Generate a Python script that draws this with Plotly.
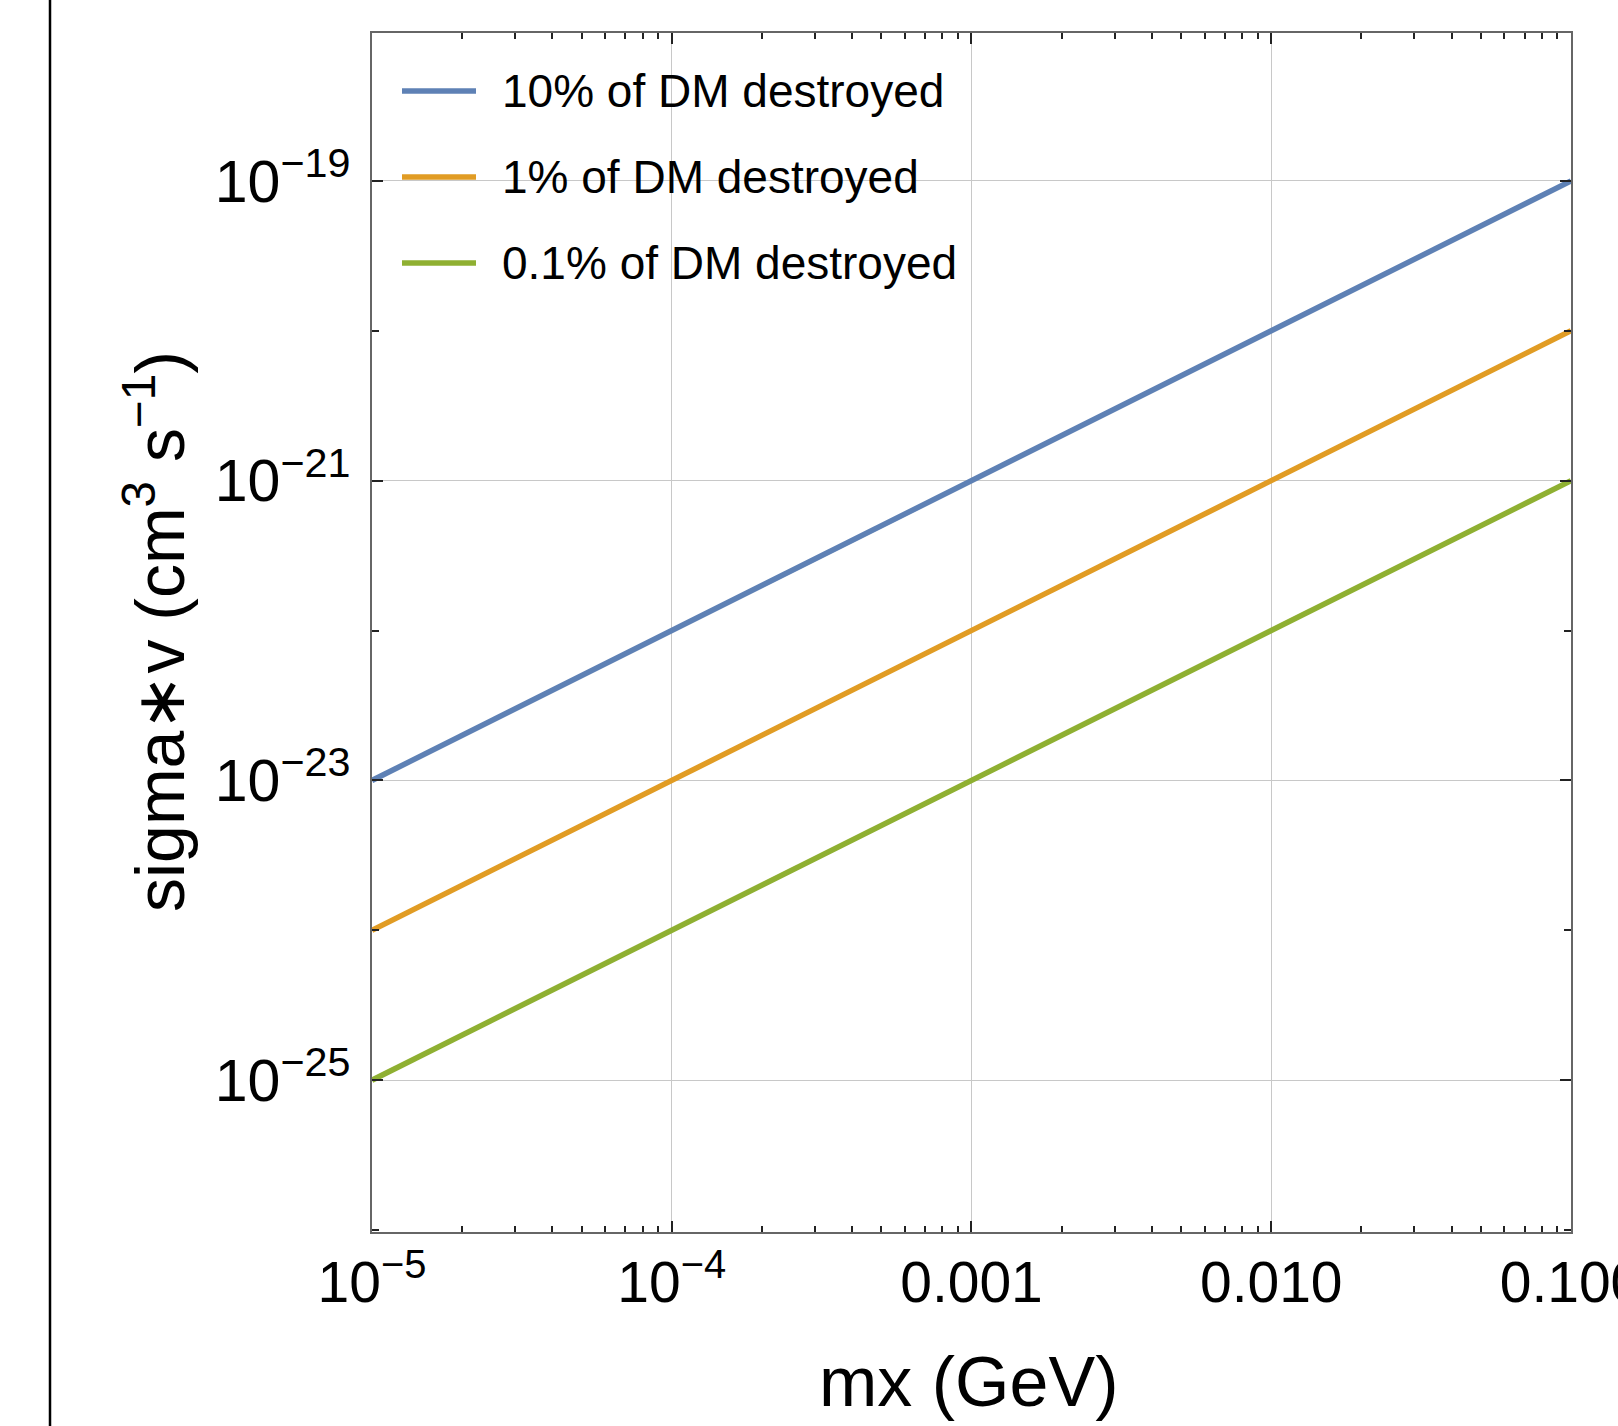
import plotly.graph_objects as go

# ---- data ----
mx_gev = [1e-5, 1e-4, 1e-3, 1e-2, 1e-1]
sv_10pct = [1e-23, 1e-22, 1e-21, 1e-20, 1e-19]
sv_1pct = [1e-24, 1e-23, 1e-22, 1e-21, 1e-20]
sv_01pct = [1e-25, 1e-24, 1e-23, 1e-22, 1e-21]
series_names = ["10% of DM destroyed", "1% of DM destroyed", "0.1% of DM destroyed"]
series_colors = ["#5E81B5", "#E19C24", "#8FB032"]

x_tickvals = [1e-5, 1e-4, 1e-3, 1e-2, 1e-1]
x_ticktext = ["10<sup>−5</sup>", "10<sup>−4</sup>", "0.001", "0.010", "0.100"]
y_tickvals = [1e-25, 1e-23, 1e-21, 1e-19]
y_ticktext = ["10<sup>−25</sup>", "10<sup>−23</sup>", "10<sup>−21</sup>", "10<sup>−19</sup>"]
y_minorvals = [1e-26, 1e-24, 1e-22, 1e-20, 1e-18]

# ---- layout geometry (pixels) ----
W, H = 1618, 1426
PL, PR, PT, PB = 372, 1571, 33, 1232
pw, ph = PR - PL, PB - PT


def px(xp):
    return (xp - PL) / pw


def py(yp):
    return (PB - yp) / ph


FONT = "Liberation Sans, Arial, Helvetica, sans-serif"

fig = go.Figure()
for ys, name, col in zip([sv_10pct, sv_1pct, sv_01pct], series_names, series_colors):
    fig.add_trace(go.Scatter(x=mx_gev, y=ys, mode="lines", name=name,
                             line=dict(color=col, width=5.5), showlegend=False))

x_minor = [m * 10 ** e for e in range(-5, -1) for m in range(2, 10)]

fig.update_xaxes(type="log", range=[-5, -0.99995], automargin=False,
                 tickmode="array", tickvals=x_tickvals, ticktext=x_ticktext,
                 ticklabeloverflow="allow",
                 ticks="inside", ticklen=11, tickwidth=1.5, tickcolor="#222",
                 showline=True, linecolor="#666", linewidth=1.5, mirror="allticks",
                 showgrid=True, gridcolor="#c8c8c8", gridwidth=1,
                 tickfont=dict(family=FONT, size=57, color="black"),
                 minor=dict(tickmode="array", tickvals=x_minor, ticks="inside",
                            ticklen=6, tickwidth=1.5, tickcolor="#222", showgrid=False),
                 zeroline=False)
fig.update_yaxes(type="log", range=[-26.013, -18.013], automargin=False,
                 tickmode="array", tickvals=y_tickvals, ticktext=y_ticktext,
                 ticklabelstandoff=8,
                 ticks="inside", ticklen=11, tickwidth=1.5, tickcolor="#222",
                 showline=True, linecolor="#666", linewidth=1.5, mirror="allticks",
                 showgrid=True, gridcolor="#c8c8c8", gridwidth=1,
                 tickfont=dict(family=FONT, size=59, color="black"),
                 minor=dict(tickmode="array", tickvals=y_minorvals, ticks="inside",
                            ticklen=7, tickwidth=1.5, tickcolor="#222", showgrid=False),
                 zeroline=False)

shapes = []
annotations = []
# legend drawn manually
leg_y = [91, 177, 263]
for name, col, yy in zip(series_names, series_colors, leg_y):
    shapes.append(dict(type="line", xref="paper", yref="paper",
                       x0=px(402), x1=px(476), y0=py(yy), y1=py(yy),
                       line=dict(color=col, width=5.5)))
    annotations.append(dict(xref="paper", yref="paper", x=px(500), y=py(yy),
                            xanchor="left", yanchor="middle", showarrow=False,
                            text=name, font=dict(family=FONT, size=46, color="black")))

# left page border line
shapes.append(dict(type="line", xref="paper", yref="paper",
                   x0=px(50), x1=px(50), y0=py(-5), y1=py(H + 5),
                   line=dict(color="black", width=2.5)))

# axis titles
annotations.append(dict(xref="paper", yref="paper", x=px(968), y=py(1382),
                        xanchor="center", yanchor="middle", showarrow=False,
                        text="mx (GeV)", font=dict(family=FONT, size=70, color="black")))
annotations.append(dict(xref="paper", yref="paper", x=px(155), y=py(632),
                        xanchor="center", yanchor="middle", showarrow=False, textangle=-90,
                        text="sigma∗v (cm<sup>3</sup> s<sup>−1</sup>)",
                        font=dict(family=FONT, size=68, color="black")))

fig.update_layout(width=W, height=H, autosize=False,
                  margin=dict(l=PL, r=W - PR, t=PT, b=H - PB, pad=0, autoexpand=False),
                  paper_bgcolor="white", plot_bgcolor="white",
                  shapes=shapes, annotations=annotations, showlegend=False)

fig.write_html("out.html", config={"displayModeBar": False},
               post_script="document.body.style.margin='0';document.body.style.overflow='hidden';")
